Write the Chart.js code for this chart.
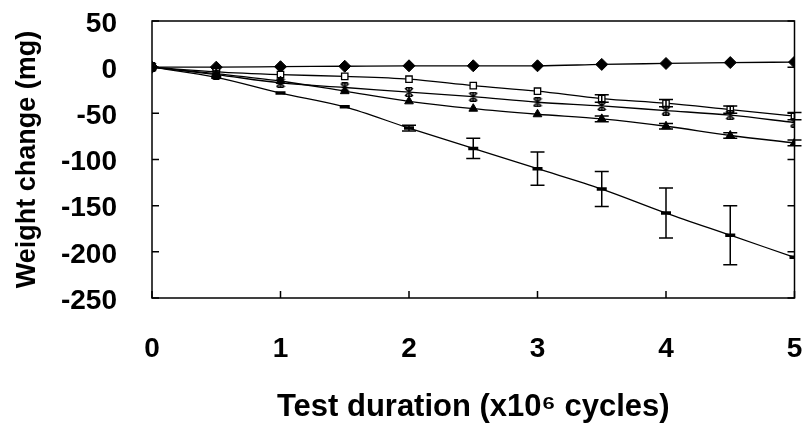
<!DOCTYPE html>
<html>
<head>
<meta charset="utf-8">
<script src="https://cdn.jsdelivr.net/npm/chart.js@4"></script>
<style>
  html, body { margin: 0; padding: 0; background: #fff; overflow: hidden; }
  #wrap { width: 803px; height: 429px; position: relative; }
</style>
</head>
<body>
<div id="wrap"><canvas id="chart" width="803" height="429"></canvas></div>
<script>
// test duration, x10^6 cycles
const cycles = [0, 0.5, 1, 1.5, 2, 2.5, 3, 3.5, 4, 4.5, 5];

// weight change (mg) per material
const diamondVals = [0, 0, 0.5, 1, 1.5, 1.5, 1.5, 3, 4, 5, 5.5];
const squareVals = [0, -5, -8, -10, -13, -20, -26, -34, -39, -46, -53];
const starVals = [0, -8, -17, -22, -27, -32, -38, -42, -47, -52, -60];
const triVals = [0, -7, -15, -26, -37, -45, -51, -56, -64, -74, -82];
const dashVals = [0, -11, -28, -43, -66, -88, -110, -132, -158, -182, -206];

// +/- spread (mg)
const squareErr = [0, 0, 0, 0, 0, 0, 0, 4, 4, 4, 4];
const triErr = [0, 0, 0, 0, 0, 0, 0, 3, 3, 3, 3];
const dashErr = [0, 0, 0, 0, 3, 11, 18, 19, 27, 32, 0];

const yTicks = [50, 0, -50, -100, -150, -200, -250];
const xTicks = [0, 1, 2, 3, 4, 5];

function pts(vals) {
  return cycles.map(function (c, i) { return { x: c, y: vals[i] }; });
}

// asterisk marker: X with a vertical bar
function asterisk(size) {
  const c = document.createElement('canvas');
  c.width = size; c.height = size;
  const g = c.getContext('2d');
  g.strokeStyle = '#000';
  g.lineWidth = 1.6;
  g.beginPath();
  g.moveTo(1, 1); g.lineTo(size - 1, size - 1);
  g.moveTo(size - 1, 1); g.lineTo(1, size - 1);
  g.moveTo(size / 2, 0); g.lineTo(size / 2, size);
  g.moveTo(2, 0.8); g.lineTo(size - 2, 0.8);
  g.moveTo(2, size - 0.8); g.lineTo(size - 2, size - 0.8);
  g.stroke();
  return c;
}

function series(vals, err, style, fill, radius, bw) {
  return {
    data: pts(vals),
    err: err,
    borderColor: '#000',
    borderWidth: 1.3,
    pointStyle: style,
    pointRadius: radius,
    pointBorderWidth: bw,
    pointBorderColor: '#000',
    pointBackgroundColor: fill,
    cubicInterpolationMode: 'monotone',
    fill: false
  };
}

// error bars drawn through the scales
const errorBars = {
  id: 'errorBars',
  afterDatasetsDraw(chart) {
    const ctx = chart.ctx;
    const xs = chart.scales.x, ys = chart.scales.y;
    ctx.save();
    ctx.strokeStyle = '#000';
    ctx.lineWidth = 1.5;
    chart.data.datasets.forEach(function (ds) {
      if (!ds.err) return;
      ds.data.forEach(function (p, i) {
        const e = ds.err[i];
        if (!e) return;
        const px = xs.getPixelForValue(p.x);
        const top = ys.getPixelForValue(p.y + e);
        const bot = ys.getPixelForValue(p.y - e);
        ctx.beginPath();
        ctx.moveTo(px, top); ctx.lineTo(px, bot);
        ctx.moveTo(px - 7, top); ctx.lineTo(px + 7, top);
        ctx.moveTo(px - 7, bot); ctx.lineTo(px + 7, bot);
        ctx.stroke();
      });
    });
    ctx.restore();
  }
};

// frame and inward tick marks
const frame = {
  id: 'frame',
  afterDraw(chart) {
    const a = chart.chartArea, ctx = chart.ctx;
    const xs = chart.scales.x, ys = chart.scales.y;
    ctx.save();
    ctx.strokeStyle = '#000';
    ctx.lineWidth = 1.5;
    ctx.strokeRect(a.left, a.top, a.right - a.left, a.bottom - a.top);
    ctx.beginPath();
    yTicks.forEach(function (v) {
      const py = ys.getPixelForValue(v);
      ctx.moveTo(a.left, py); ctx.lineTo(a.left + 7, py);
      ctx.moveTo(a.right, py); ctx.lineTo(a.right - 7, py);
    });
    xTicks.forEach(function (v) {
      const px = xs.getPixelForValue(v);
      ctx.moveTo(px, a.bottom); ctx.lineTo(px, a.bottom - 7);
    });
    ctx.stroke();
    ctx.restore();
  }
};

const tickFont = { family: 'Liberation Sans, Arial, sans-serif', size: 28, weight: 'bold' };
const xTitleFont = { family: 'Liberation Sans, Arial, sans-serif', size: 31, weight: 'bold' };
const yTitleFont = { family: 'Liberation Sans, Arial, sans-serif', size: 27, weight: 'bold' };

new Chart(document.getElementById('chart').getContext('2d'), {
  type: 'line',
  data: {
    datasets: [
      series(dashVals, dashErr, 'line', '#000', 5, 3.5),
      series(triVals, triErr, 'triangle', '#000', 5, 1),
      series(starVals, null, asterisk(10), '#000', 5, 1),
      series(squareVals, squareErr, 'rect', '#fff', 4.5, 1.3),
      series(diamondVals, null, 'rectRot', '#000', 6, 1)
    ]
  },
  options: {
    responsive: false,
    animation: false,
    devicePixelRatio: 1,
    layout: { padding: { top: 21, right: 3, left: 0, bottom: 0 } },
    plugins: { legend: { display: false }, tooltip: { enabled: false } },
    scales: {
      x: {
        type: 'linear',
        min: 0, max: 5,
        grid: { display: false, drawTicks: false },
        border: { display: false },
        ticks: { stepSize: 1, color: '#000', font: tickFont, padding: 34, maxRotation: 0 },
        title: { display: true, text: 'Test duration (x10\u2076 cycles)', color: '#000', font: xTitleFont, padding: { top: 0, bottom: 3 } },
        afterFit(s) { s.height = 131; s.paddingLeft = 0; s.paddingRight = 0; }
      },
      y: {
        min: -250, max: 50,
        grid: { display: false, drawTicks: false },
        border: { display: false },
        ticks: { stepSize: 50, color: '#000', font: tickFont, padding: 35, labelOffset: 3 },
        title: { display: true, text: 'Weight change (mg)', color: '#000', font: yTitleFont, padding: { top: 11, bottom: 0 } },
        afterFit(s) { s.width = 152; s.paddingTop = 0; s.paddingBottom = 0; }
      }
    }
  },
  plugins: [errorBars, frame]
});
</script>
</body>
</html>
